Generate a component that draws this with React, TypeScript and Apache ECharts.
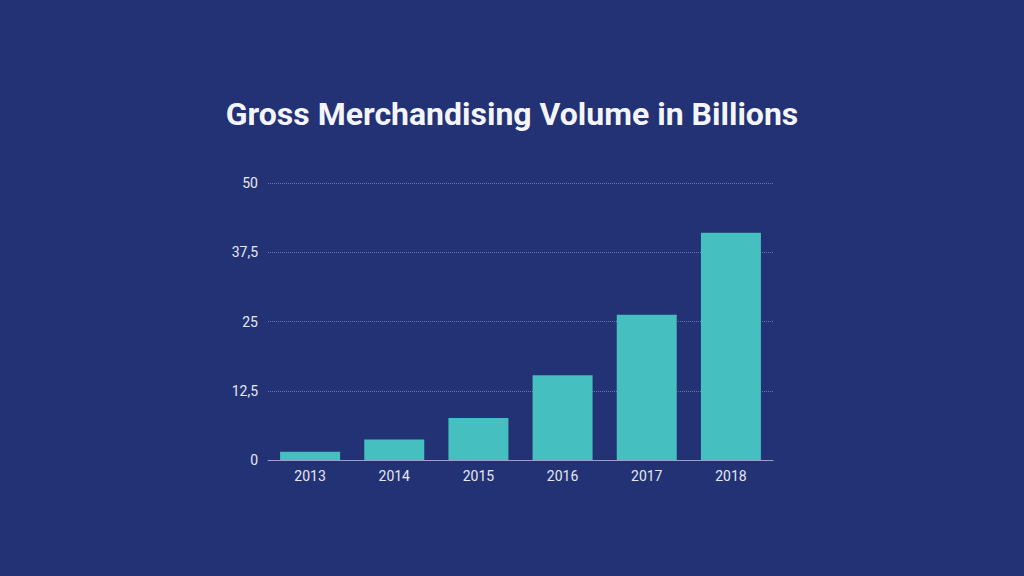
import React, { useEffect, useRef } from "react";
import * as echarts from "echarts";

const categories = ["2013", "2014", "2015", "2016", "2017", "2018"];
const gmvValues = [1.5, 3.7, 7.6, 15.3, 26.2, 41.0];
const titleText = "Gross Merchandising Volume in Billions";

export default function App() {
  const ref = useRef<HTMLDivElement>(null);
  useEffect(() => {
    if (!ref.current) return;
    const chart = echarts.init(ref.current, undefined, { renderer: "svg" });
    chart.setOption({
      animation: false,
      backgroundColor: "#233274",
      title: {
        text: titleText,
        left: "center",
        top: 93,
        textStyle: {
          color: "#f4f5fa",
          fontFamily: "Roboto",
          fontWeight: "bold",
          fontSize: 32,
        },
      },
      grid: { left: 268, right: 251, top: 183, bottom: 116, containLabel: false },
      xAxis: {
        type: "category",
        data: categories,
        axisLine: { lineStyle: { color: "#9aa1c8", width: 1 } },
        axisTick: { show: false },
        axisLabel: {
          color: "#e6e9f3",
          fontFamily: "Roboto",
          fontSize: 14,
          margin: 9,
        },
      },
      yAxis: {
        type: "value",
        min: 0,
        max: 50,
        interval: 12.5,
        axisLine: { show: false },
        axisTick: { show: false },
        splitLine: { lineStyle: { color: "#6a74aa", type: [1, 1], width: 1 } },
        axisLabel: {
          color: "#e6e9f3",
          fontFamily: "Roboto",
          fontSize: 14,
          margin: 10,
          formatter: (v: number) => String(v).replace(".", ","),
        },
      },
      series: [
        {
          type: "bar",
          data: gmvValues,
          barWidth: 60,
          itemStyle: { color: "#45bfbf" },
        },
      ],
    });
    return () => chart.dispose();
  }, []);
  return <div ref={ref} style={{ width: 1024, height: 576, position: "fixed", left: 0, top: 0 }} />;
}
